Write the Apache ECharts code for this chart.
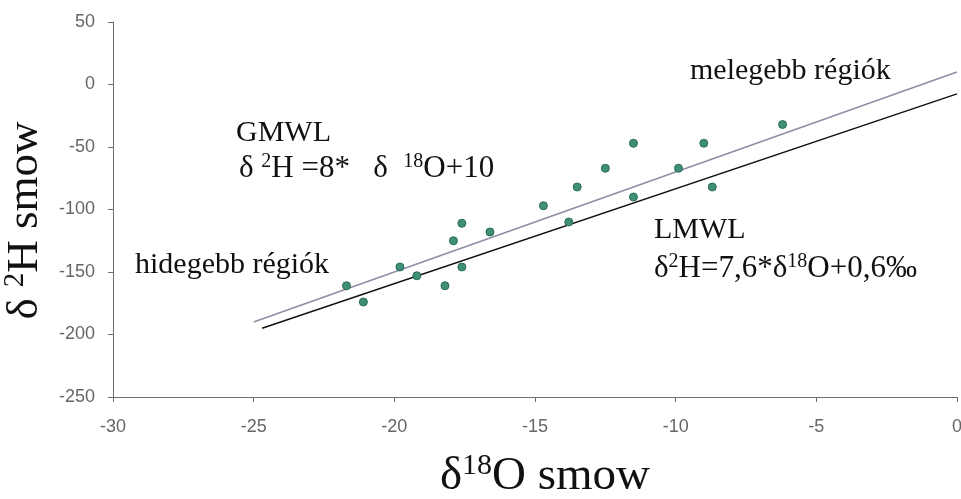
<!DOCTYPE html>
<html>
<head>
<meta charset="utf-8">
<script src="https://cdn.jsdelivr.net/npm/echarts@6/dist/echarts.min.js"></script>
<style>
	html, body { margin: 0; padding: 0; background: #fff; }
	#chart { width: 961px; height: 499px; }
</style>
</head>
<body>
<div id="chart"></div>
<script>
//数据：δ18O / δ2H 测点
var oxygen = [-21.7, -21.1, -19.8, -19.2, -18.2, -17.6, -17.9, -17.6, -16.6, -14.7,
	-13.8, -13.5, -12.5, -11.5, -11.5, -9.9, -9.0, -8.7, -6.2];
var hydrogen = [-161, -174, -146, -153, -161, -146, -125, -111, -118, -97,
	-110, -82, -67, -47, -90, -67, -47, -82, -32];
//GMWL 直线两端
var gmwlX = [-25, 0];
var gmwlY = [-190, 10];
//LMWL 直线两端
var lmwlX = [-24.7, 0];
var lmwlY = [-195, -7.5];
//刻度
var xTicks = [-30, -25, -20, -15, -10, -5, 0];
var yTicks = [-250, -200, -150, -100, -50, 0, 50];

(function() {
	var serif = '"Liberation Serif", "DejaVu Serif", serif';
	var sans = '"Liberation Sans", Arial, sans-serif';

	function pairs(xs, ys) {
		var out = [];
		for (var i = 0; i < xs.length; i++) {
			out.push([xs[i], ys[i]]);
		}
		return out;
	}

	//上标样式
	function richFor(size) {
		return {
			a: { fontFamily: serif, fontSize: size, color: '#111', lineHeight: size * 1.1 },
			s: { fontFamily: serif, fontSize: Math.round(size * 0.64), color: '#111', verticalAlign: 'top', lineHeight: size * 0.64 }
		};
	}

	function label(left, top, text, size) {
		return {
			type: 'text',
			left: left,
			top: top,
			silent: true,
			style: {
				text: text,
				rich: richFor(size),
				fontFamily: serif,
				fontSize: size,
				fill: '#111'
			}
		};
	}

	var chart = echarts.init(document.getElementById('chart'), null, { renderer: 'canvas' });
	chart.setOption({
		backgroundColor: '#fff',
		animation: false,
		grid: { left: 113, right: 4, top: 22, bottom: 102, containLabel: false, outerBoundsMode: 'none' },
		xAxis: {
			type: 'value',
			min: xTicks[0],
			max: xTicks[xTicks.length - 1],
			interval: 5,
			name: '{a|δ}{s|18}{a|O smow}',
			nameLocation: 'middle',
			nameGap: 54,
			nameTextStyle: { rich: richFor(47), padding: [0, 0, 0, 20] },
			axisLine: { onZero: false, lineStyle: { color: '#6e6e6e', width: 1 } },
			axisTick: { show: true, length: 5, lineStyle: { color: '#6e6e6e' } },
			axisLabel: { fontFamily: sans, fontSize: 18, color: '#666', margin: 21 },
			splitLine: { show: false }
		},
		yAxis: {
			type: 'value',
			min: yTicks[0],
			max: yTicks[yTicks.length - 1],
			interval: 50,
			name: '{a|δ }{s|2}{a|H smow}',
			nameLocation: 'middle',
			nameRotate: 90,
			nameGap: 63,
			nameTextStyle: { rich: richFor(45), padding: [0, 22, 0, 0] },
			axisLine: { onZero: false, lineStyle: { color: '#6e6e6e', width: 1 } },
			axisTick: { show: true, length: 5, lineStyle: { color: '#6e6e6e' } },
			axisLabel: { fontFamily: sans, fontSize: 18, color: '#666', margin: 18 },
			splitLine: { show: false }
		},
		graphic: [
			label(236, 118, '{a|GMWL}', 30),
			label(239, 152, '{a|δ }{s|2}{a|H =8*   δ  }{s|18}{a|O+10}', 31),
			label(135, 250, '{a|hidegebb régiók}', 30),
			label(690, 56, '{a|melegebb régiók}', 30),
			label(654, 215, '{a|LMWL}', 30),
			label(654, 252, '{a|δ}{s|2}{a|H=7,6*δ}{s|18}{a|O+0,6‰}', 31)
		],
		series: [{
			name: 'GMWL',
			type: 'line',
			data: pairs(gmwlX, gmwlY),
			symbol: 'none',
			silent: true,
			lineStyle: { color: '#8e8ca6', width: 1.5 },
			z: 2
		}, {
			name: 'LMWL',
			type: 'line',
			data: pairs(lmwlX, lmwlY),
			symbol: 'none',
			silent: true,
			lineStyle: { color: '#111', width: 1.5 },
			z: 2
		}, {
			name: 'minták',
			type: 'scatter',
			data: pairs(oxygen, hydrogen),
			symbol: 'circle',
			symbolSize: 8,
			itemStyle: { color: '#3f8f76', borderColor: '#2a6b57', borderWidth: 1, opacity: 1 },
			z: 3
		}]
	});
})();
</script>
</body>
</html>
